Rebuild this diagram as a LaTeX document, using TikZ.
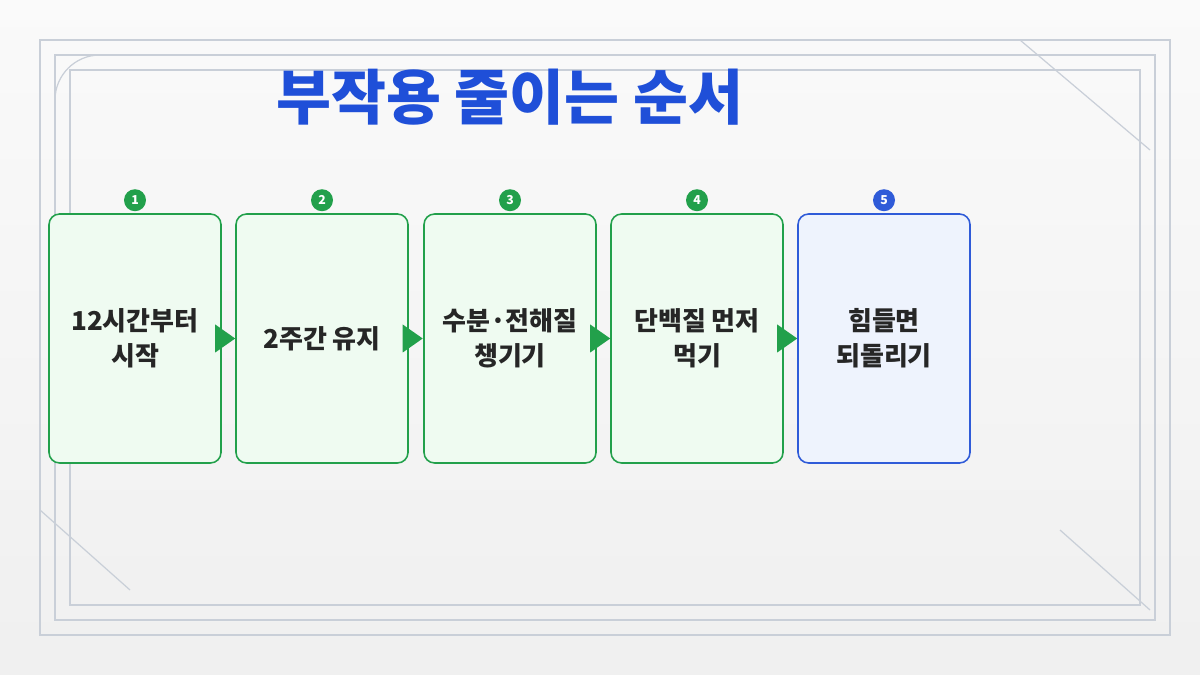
\documentclass[tikz,border=0pt]{standalone}
\usepackage{fontspec}
\newfontfamily\kr{Noto Sans CJK KR}
\usetikzlibrary{arrows.meta,calc,shapes.geometric}
\definecolor{stepgreen}{HTML}{22A04B}
\definecolor{stepfill}{HTML}{EFFBF1}
\definecolor{lastblue}{HTML}{2F5BD8}
\definecolor{lastfill}{HTML}{EEF3FD}
\definecolor{titleblue}{HTML}{1F4FD8}
\definecolor{framegray}{HTML}{C9CFD8}
\begin{document}
\begin{tikzpicture}[x=0.02cm,y=-0.02cm,
    stepbox/.style={draw=stepgreen,fill=stepfill,rounded corners=6pt,line width=0.9pt,
      minimum width=172*0.02cm,minimum height=249*0.02cm,align=center,
      font=\kr\bfseries\fontsize{14.8}{20}\selectfont,text=black!85},
    badge/.style={circle,fill=stepgreen,text=white,inner sep=0pt,minimum size=0.44cm,
      font=\kr\bfseries\fontsize{7}{8}\selectfont},
    link/.style={draw=none,fill=stepgreen,isosceles triangle,isosceles triangle apex angle=70,
      inner sep=0pt,minimum height=0.4cm,minimum width=0.38cm}]
\useasboundingbox (0,0) rectangle (1200,675);
\shade[top color=white!96!gray, bottom color=gray!12] (0,0) rectangle (1200,675);
% frame
\begin{scope}[draw=framegray,line width=0.7pt]
  \draw (40,40) rectangle (1170,635);
  \draw (55,55) rectangle (1155,620);
  \draw (70,70) rectangle (1140,605);
  \draw (40,510) -- (130,590) (1060,530) -- (1150,610);
  \draw (1020,40) -- (1150,150) (55,100) arc (180:270:45);
\end{scope}
\node (title) at (510,97) [text=titleblue,font=\kr\bfseries\fontsize{34}{40}\selectfont] {부작용 줄이는 순서};
\node (s1) at (135,338.5) [stepbox] {12시간부터\\시작};
\node (s2) at (322,338.5) [stepbox] {2주간 유지};
\node (s3) at (510,338.5) [stepbox] {수분·전해질\\챙기기};
\node (s4) at (697,338.5) [stepbox] {단백질 먼저\\먹기};
\node (s5) at (884,338.5) [stepbox,draw=lastblue,fill=lastfill] {힘들면\\되돌리기};
\foreach \i in {1,...,4} {
  \node (b\i) at ([yshift=0.26cm]s\i.north) [badge] {\i};
}
\node (b5) at ([yshift=0.26cm]s5.north) [badge,fill=lastblue] {5};
\foreach \i/\j in {1/2,2/3,3/4,4/5} {
  \node (a\i) at ([xshift=-0.12cm]$(s\i.east)!0.5!(s\j.west)$) [link] {};
}
\end{tikzpicture}
\end{document}
